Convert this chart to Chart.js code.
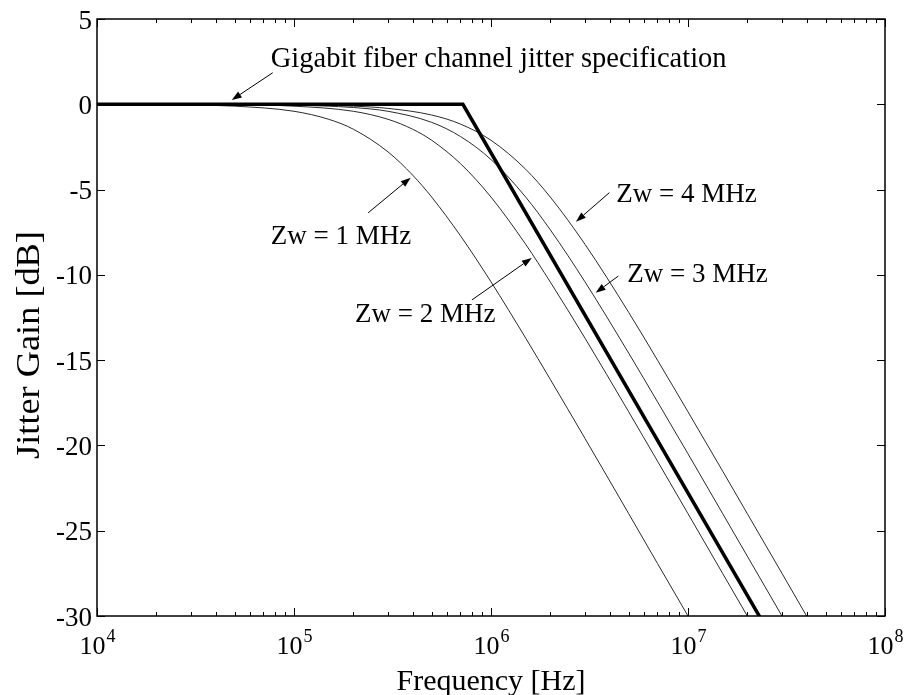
<!DOCTYPE html>
<html>
<head>
<meta charset="utf-8">
<title>Jitter transfer</title>
<script src="https://cdn.jsdelivr.net/npm/chart.js@4.4.1/dist/chart.umd.min.js"></script>
<style>
  html, body { margin: 0; padding: 0; background: #ffffff; }
  #wrap { width: 904px; height: 695px; position: relative; }
</style>
</head>
<body>
<div id="wrap"><canvas id="plot"></canvas></div>
<script>
// Jitter transfer curves for four loop zero frequencies (Zw), frequency in Hz, gain in dB
const zw1Freq = [1e4, 3e4, 5e4, 1e5, 1.5e5, 2e5, 3e5, 4e5, 5e5, 7e5, 1e6, 1.5e6, 2e6, 3e6, 5e6, 7e6, 1e7];
const zw1Gain = [0, -0.04, -0.11, -0.41, -0.88, -1.46, -2.79, -4.15, -5.44, -7.71, -10.41, -13.71, -16.13, -19.59, -24.0, -26.92, -30.0];

const zw2Freq = [1e4, 3e4, 5e4, 1e5, 2e5, 3e5, 4e5, 5e5, 7e5, 1e6, 1.5e6, 2e6, 3e6, 5e6, 7e6, 1e7, 1.5e7, 2e7];
const zw2Gain = [0, -0.01, -0.03, -0.11, -0.41, -0.88, -1.46, -2.11, -3.48, -5.44, -8.21, -10.42, -13.71, -18.03, -20.92, -24.0, -27.51, -30.0];

const zw3Freq = [1e4, 5e4, 1e5, 2e5, 3e5, 5e5, 7e5, 1e6, 1.5e6, 2e6, 3e6, 5e6, 7e6, 1e7, 1.5e7, 2e7, 3e7];
const zw3Gain = [0, -0.01, -0.05, -0.19, -0.41, -1.06, -1.89, -3.24, -5.44, -7.36, -10.41, -14.59, -17.44, -20.49, -24.0, -26.49, -30.0];

const zw4Freq = [1e4, 5e4, 1e5, 2e5, 3e5, 5e5, 7e5, 1e6, 1.5e6, 2e6, 3e6, 5e6, 7e6, 1e7, 1.5e7, 2e7, 3e7, 4e7];
const zw4Gain = [0, -0.01, -0.03, -0.11, -0.24, -0.63, -1.16, -2.11, -3.81, -5.44, -8.21, -12.2, -15.0, -18.03, -21.51, -24.0, -27.5, -30.0];

// Gigabit fiber channel jitter specification mask
const specFreq = [1e4, 7.2e5, 2.3e7];
const specGain = [0, 0, -30];

// Axis ticks and labels
const xDecades = [4, 5, 6, 7, 8];
const xDecadeBase = '10';
const yTicks = [5, 0, -5, -10, -15, -20, -25, -30];
const yTickLabels = ['5', '0', '-5', '-10', '-15', '-20', '-25', '-30'];
const xTitle = 'Frequency [Hz]';
const yTitle = 'Jitter Gain [dB]';

// Callout texts
const specText = 'Gigabit fiber channel jitter specification';
const zwTexts = ['Zw = 1 MHz', 'Zw = 2 MHz', 'Zw = 3 MHz', 'Zw = 4 MHz'];

// Callout placement in data coordinates: text origin (left, baseline), arrow tail and head
const callouts = [
  { text: specText,   size: 28.5, at: [7.62e4, 2.2],   tail: [7.8e4, 1.85],   head: [4.83e4, 0.25] },
  { text: zwTexts[0], size: 27, at: [7.62e4, -8.21], tail: [2.38e5, -6.36], head: [3.91e5, -4.30] },
  { text: zwTexts[1], size: 27, at: [2.04e5, -12.76], tail: [8.0e5, -11.47], head: [1.61e6, -9.01] },
  { text: zwTexts[2], size: 27, at: [4.92e6, -10.40], tail: [4.43e6, -10.07], head: [3.40e6, -11.05] },
  { text: zwTexts[3], size: 27, at: [4.32e6, -5.75], tail: [3.99e6, -5.18], head: [2.70e6, -6.88] }
];

const SERIF = '"Liberation Serif", "Times New Roman", serif';

function toPoints(fs, gs) {
  return fs.map((f, i) => ({ x: f, y: gs[i] }));
}

const thin = {
  borderColor: '#2a2a2a',
  borderWidth: 1,
  pointRadius: 0,
  fill: false,
  cubicInterpolationMode: 'monotone',
  order: 1
};

const frameAndLabels = {
  id: 'frameAndLabels',
  afterDatasetsDraw(chart) {
    const { ctx, chartArea: a, scales: { x, y } } = chart;
    ctx.save();

    // plot frame
    ctx.strokeStyle = '#000';
    ctx.lineWidth = 1.5;
    ctx.strokeRect(a.left, a.top, a.right - a.left, a.bottom - a.top);

    // inward ticks on all four sides
    ctx.lineWidth = 1;
    ctx.beginPath();
    for (let d = xDecades[0]; d <= xDecades[xDecades.length - 1]; d++) {
      for (let m = 1; m <= 9; m++) {
        const v = m * Math.pow(10, d);
        if (v > Math.pow(10, xDecades[xDecades.length - 1])) break;
        const px = Math.round(x.getPixelForValue(v)) + 0.5;
        const len = m === 1 ? 8 : 4;
        ctx.moveTo(px, a.bottom); ctx.lineTo(px, a.bottom - len);
        ctx.moveTo(px, a.top); ctx.lineTo(px, a.top + len);
      }
    }
    yTicks.forEach(v => {
      const py = Math.round(y.getPixelForValue(v)) + 0.5;
      ctx.moveTo(a.left, py); ctx.lineTo(a.left + 8, py);
      ctx.moveTo(a.right, py); ctx.lineTo(a.right - 8, py);
    });
    ctx.stroke();

    ctx.fillStyle = '#000';

    // y tick labels
    ctx.font = '27px ' + SERIF;
    ctx.textAlign = 'right';
    ctx.textBaseline = 'alphabetic';
    yTicks.forEach((v, i) => {
      ctx.fillText(yTickLabels[i], a.left - 5, y.getPixelForValue(v) + 9.5);
    });

    // x tick labels as powers of ten
    ctx.textAlign = 'left';
    xDecades.forEach(d => {
      const px = x.getPixelForValue(Math.pow(10, d));
      ctx.font = '26px ' + SERIF;
      const wb = ctx.measureText(xDecadeBase).width;
      ctx.font = '18px ' + SERIF;
      const we = ctx.measureText(String(d)).width;
      const left = px - (wb + we) / 2;
      ctx.font = '26px ' + SERIF;
      ctx.fillText(xDecadeBase, left, a.bottom + 38);
      ctx.font = '18px ' + SERIF;
      ctx.fillText(String(d), left + wb + 1, a.bottom + 26);
    });

    // axis titles
    ctx.font = '30px ' + SERIF;
    ctx.textAlign = 'center';
    ctx.fillText(xTitle, (a.left + a.right) / 2, 690);
    ctx.save();
    ctx.translate(39, 345);
    ctx.rotate(-Math.PI / 2);
    ctx.scale(1.1, 1);
    ctx.font = '33px ' + SERIF;
    ctx.fillText(yTitle, 0, 0);
    ctx.restore();

    // callouts with arrows
    ctx.textAlign = 'left';
    callouts.forEach(c => {
      ctx.font = c.size + 'px ' + SERIF;
      ctx.fillText(c.text, x.getPixelForValue(c.at[0]), y.getPixelForValue(c.at[1]));
      const tx = x.getPixelForValue(c.tail[0]), ty = y.getPixelForValue(c.tail[1]);
      const hx = x.getPixelForValue(c.head[0]), hy = y.getPixelForValue(c.head[1]);
      const ang = Math.atan2(hy - ty, hx - tx);
      const L = 10, W = 3.5;
      const bx = hx - L * Math.cos(ang), by = hy - L * Math.sin(ang);
      ctx.lineWidth = 1;
      ctx.strokeStyle = '#000';
      ctx.beginPath();
      ctx.moveTo(tx, ty); ctx.lineTo(bx, by);
      ctx.stroke();
      ctx.beginPath();
      ctx.moveTo(hx, hy);
      ctx.lineTo(bx + W * Math.sin(ang), by - W * Math.cos(ang));
      ctx.lineTo(bx - W * Math.sin(ang), by + W * Math.cos(ang));
      ctx.closePath();
      ctx.fill();
    });

    ctx.restore();
  }
};

new Chart(document.getElementById('plot'), {
  type: 'line',
  data: {
    datasets: [
      { label: 'Spec', data: toPoints(specFreq, specGain), borderColor: '#000', borderWidth: 3.5,
        pointRadius: 0, fill: false, tension: 0, order: 0, borderCapStyle: 'square', borderJoinStyle: 'miter' },
      Object.assign({ label: zwTexts[0], data: toPoints(zw1Freq, zw1Gain) }, thin),
      Object.assign({ label: zwTexts[1], data: toPoints(zw2Freq, zw2Gain) }, thin),
      Object.assign({ label: zwTexts[2], data: toPoints(zw3Freq, zw3Gain) }, thin),
      Object.assign({ label: zwTexts[3], data: toPoints(zw4Freq, zw4Gain) }, thin)
    ]
  },
  options: {
    responsive: true,
    maintainAspectRatio: false,
    animation: false,
    parsing: true,
    layout: { padding: { left: 97, top: 19, right: 19, bottom: 79 } },
    plugins: { legend: { display: false }, tooltip: { enabled: false }, title: { display: false } },
    scales: {
      x: { type: 'logarithmic', min: 1e4, max: 1e8, display: false },
      y: { type: 'linear', min: -30, max: 5, display: false }
    }
  },
  plugins: [frameAndLabels]
});
</script>
</body>
</html>
